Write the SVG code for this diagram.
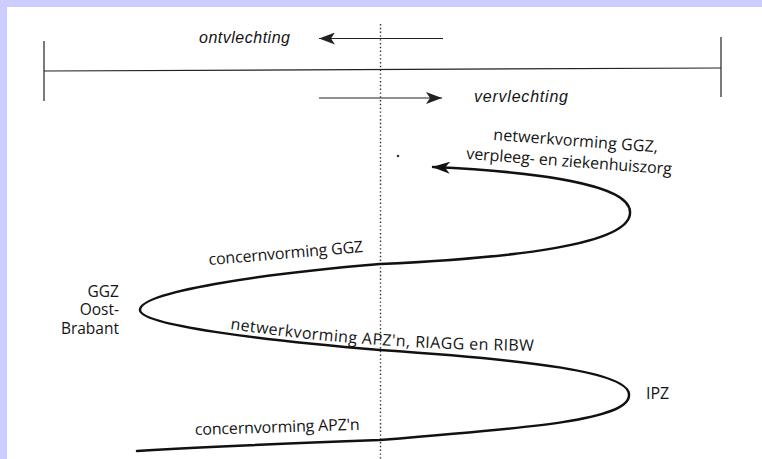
<svg xmlns="http://www.w3.org/2000/svg" width="762" height="459" viewBox="0 0 762 459">
  <style>
    .lbl { font-family: "Open Sans", "Noto Sans", "Liberation Sans", sans-serif; font-size: 16px; font-weight: 400; fill: #141414; }
    .it { font-family: "Liberation Sans", Arial, sans-serif; font-style: italic; font-weight: 400; font-size: 16px; }
    .stack { font-size: 15.5px; }
    .thin { fill: none; stroke: #222; stroke-width: 1.2; }
    .spiral { fill: none; stroke: #111; stroke-width: 2.5; stroke-linecap: round; }
    .axis { fill: none; stroke: #333; stroke-width: 1.4; stroke-dasharray: 1.4 2.4; }
  </style>
  <defs>
    <marker id="dart" viewBox="0 0 16 12" refX="16" refY="6" markerWidth="16" markerHeight="12" markerUnits="userSpaceOnUse" orient="auto">
      <path d="M0,0 L16,6 L0,12 L4,6 Z" fill="#222"/>
    </marker>
    <marker id="dartBig" viewBox="0 0 18 12" refX="17" refY="6" markerWidth="18" markerHeight="12" markerUnits="userSpaceOnUse" orient="auto">
      <path d="M0,0 L18,6 L0,12 L5,6 Z" fill="#111"/>
    </marker>
    <path id="apzBase" d="M230,329 Q370,350 545,351"/>
  </defs>

  <!-- page frame -->
  <rect x="0" y="0" width="762" height="459" fill="#ffffff"/>
  <rect x="0" y="0" width="762" height="7" fill="#ccccff"/>
  <rect x="0" y="0" width="7" height="459" fill="#ccccff"/>

  <!-- scale bar with end ticks -->
  <g id="scale">
    <line class="thin" x1="44" y1="71" x2="721" y2="68"/>
    <line class="thin" x1="44" y1="41" x2="44" y2="101"/>
    <line class="thin" x1="721" y1="37" x2="721" y2="97"/>
  </g>

  <!-- central dotted axis -->
  <g id="axis">
    <line class="axis" x1="380.5" y1="24" x2="380.5" y2="459"/>
  </g>

  <g id="connectors">
    <line class="thin" x1="443" y1="38.5" x2="319" y2="38.5" marker-end="url(#dart)"/>
    <line class="thin" x1="319" y1="98" x2="442" y2="98" marker-end="url(#dart)"/>
    <path class="spiral" marker-end="url(#dartBig)" d="M137,451 C220,446 300,443 380,440 C530,428 630,420 629,395 C630,372 530,360 380,350 C260,340 140,325 140,310 C140,292 260,274 380,264 C510,258 632,245 630,212 C630,185 540,172 433,167"/>
  </g>

  <g id="ontvlechting">
    <text class="lbl it" x="199" y="43" textLength="91">ontvlechting</text>
  </g>
  <g id="vervlechting">
    <text class="lbl it" x="474" y="102" textLength="94">vervlechting</text>
  </g>

  <g id="netwerk-ggz">
    <text class="lbl" transform="translate(493,140) rotate(4.3)" textLength="165">netwerkvorming GGZ,</text>
    <text class="lbl" transform="translate(466,159) rotate(4.3)" textLength="206">verpleeg- en ziekenhuiszorg</text>
  </g>

  <g id="concern-ggz">
    <text class="lbl" transform="translate(209,265) rotate(-4.8)" textLength="155">concernvorming GGZ</text>
  </g>

  <g id="ggz-oost-brabant">
    <text class="lbl stack" x="119" y="296.5" text-anchor="end">GGZ</text>
    <text class="lbl stack" x="119" y="315" text-anchor="end">Oost-</text>
    <text class="lbl stack" x="119" y="333.5" text-anchor="end">Brabant</text>
  </g>

  <g id="netwerk-apz">
    <text class="lbl"><textPath href="#apzBase" textLength="305">netwerkvorming APZ'n, RIAGG en RIBW</textPath></text>
  </g>

  <g id="ipz">
    <text class="lbl" x="646" y="399">IPZ</text>
  </g>

  <g id="concern-apz">
    <text class="lbl" transform="translate(195,435) rotate(-1.8)" textLength="165">concernvorming APZ'n</text>
  </g>

  <!-- speck -->
  <circle cx="398" cy="156" r="1.3" fill="#333"/>
</svg>
